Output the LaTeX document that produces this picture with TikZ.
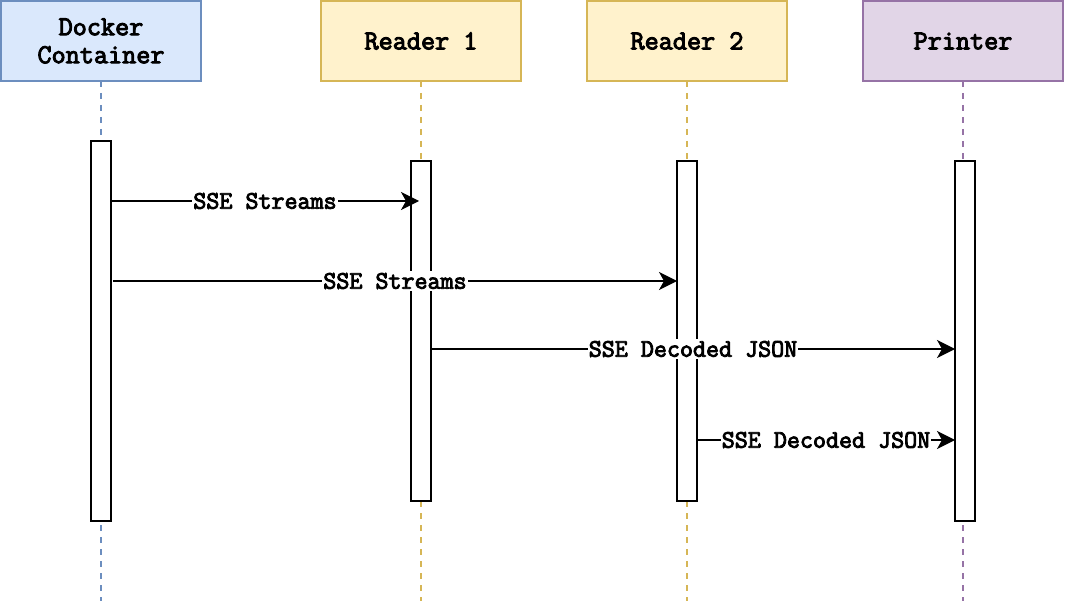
\documentclass[tikz,border=0pt]{standalone}
\usepackage{fontspec}
\setmonofont{Latin Modern Mono}[AutoFakeBold=3.5]
\usetikzlibrary{arrows.meta}
\definecolor{dfill}{HTML}{DAE8FC}\definecolor{ddraw}{HTML}{6C8EBF}
\definecolor{rfill}{HTML}{FFF2CC}\definecolor{rdraw}{HTML}{D6B656}
\definecolor{pfill}{HTML}{E1D5E7}\definecolor{pdraw}{HTML}{9673A6}
\tikzset{
  head/.style={draw, line width=1.5pt, minimum width=200pt, minimum height=80pt, outer sep=0pt, inner sep=0pt, align=center, font=\ttfamily\bfseries\fontsize{27.4}{28}\selectfont},
  life/.style={line width=1.5pt, dash pattern=on 6pt off 6pt},
  actbar/.style={draw, fill=white, line width=1.5pt, minimum width=20pt, outer sep=0pt, inner sep=0pt},
  msg/.style={line width=1.5pt, -{Stealth[length=18pt,width=18pt,inset=5pt]}},
  msglabel/.style={fill=white, inner xsep=1pt, inner ysep=2pt, font=\ttfamily\bfseries\fontsize{25.3}{26}\selectfont, text=black}
}
\begin{document}
\begin{tikzpicture}[x=1pt,y=-1pt]
\useasboundingbox (0,0) rectangle (1066,604);
% headers
\node[head, fill=dfill, draw=ddraw] (h0) at (101,41) {Docker\\Container};
\node[head, fill=rfill, draw=rdraw] (h1) at (421,41) {Reader 1};
\node[head, fill=rfill, draw=rdraw] (h2) at (687,41) {Reader 2};
\node[head, fill=pfill, draw=pdraw] (h3) at (963,41) {Printer};
% lifeline ends
\coordinate (l0) at (101,601);
\coordinate (l1) at (421,601);
\coordinate (l2) at (687,601);
\coordinate (l3) at (963,601);
\draw[life, ddraw] (h0.south) -- (l0);
\draw[life, rdraw] (h1.south) -- (l1);
\draw[life, rdraw] (h2.south) -- (l2);
\draw[life, pdraw] (h3.south) -- (l3);
% activation bars
\node[actbar, minimum height=380pt] (b0) at (101,331) {};
\node[actbar, minimum height=340pt] (b1) at (421,331) {};
\node[actbar, minimum height=340pt] (b2) at (687,331) {};
\node[actbar, minimum height=360pt] (b3) at (965,341) {};
% message endpoints
\coordinate (s1) at (111,201); \coordinate (e1) at (419,201);
\coordinate (s2) at (113,281); \coordinate (e2) at (677,281);
\coordinate (s3) at (431,349); \coordinate (e3) at (955,349);
\coordinate (s4) at (697,440); \coordinate (e4) at (955,440);
\draw[msg] (s1) -- node[msglabel, midway] (t1) {SSE Streams} (e1);
\draw[msg] (s2) -- node[msglabel, midway] (t2) {SSE Streams} (e2);
\draw[msg] (s3) -- node[msglabel, midway] (t3) {SSE Decoded JSON} (e3);
\draw[msg] (s4) -- node[msglabel, midway] (t4) {SSE Decoded JSON} (e4);
\end{tikzpicture}
\end{document}
